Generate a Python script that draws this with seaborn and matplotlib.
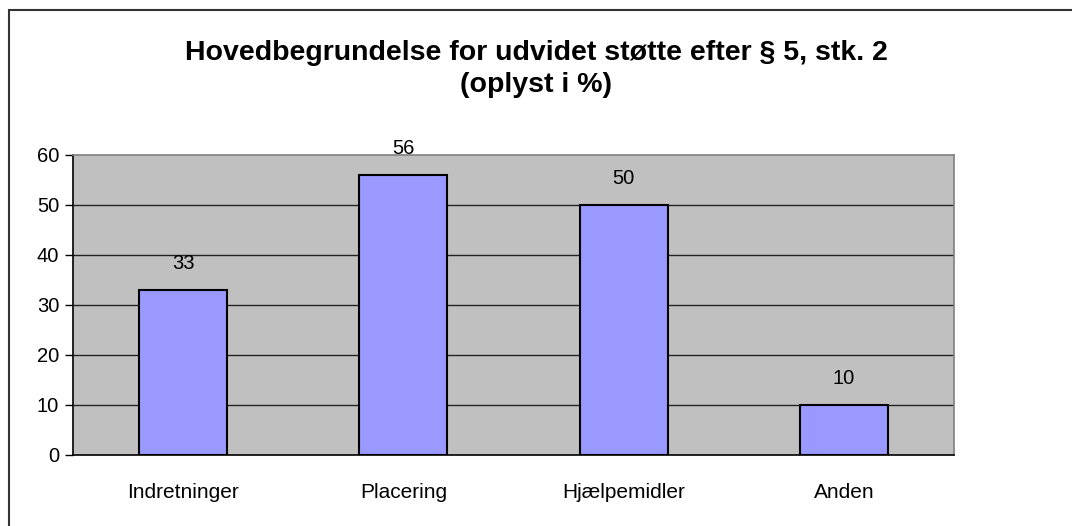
import matplotlib
matplotlib.use("Agg")
import matplotlib.pyplot as plt
import seaborn as sns
import pandas as pd
from matplotlib.patches import Rectangle

categories = ["Indretninger", "Placering", "Hjælpemidler", "Anden"]
values = [33, 56, 50, 10]
yticks = [0, 10, 20, 30, 40, 50, 60]
title_lines = ["Hovedbegrundelse for udvidet støtte efter § 5, stk. 2", "(oplyst i %)"]

sns.set_theme(style="white")
plt.rcParams['font.family'] = ['Liberation Sans', 'DejaVu Sans']
plt.rcParams['text.color'] = 'black'
plt.rcParams['xtick.color'] = 'black'
plt.rcParams['ytick.color'] = 'black'

df = pd.DataFrame({"cat": categories, "val": values})

fig = plt.figure(figsize=(10.72, 5.26), dpi=100)
ax = fig.add_axes([73/1072, 71/526, (954-73)/1072, (455-155)/526])
ax.set_facecolor("#C0C0C0")

sns.barplot(data=df, x="cat", y="val", color="#9999FF", width=0.4,
            edgecolor="black", linewidth=1.5, saturation=1, ax=ax, zorder=3)

ax.set_ylim(0, 60)
ax.set_xlim(-0.5, len(categories) - 0.5)
ax.set_yticks(yticks)
ax.set_yticklabels([str(t) for t in yticks], fontsize=14.5)
for t in yticks[1:-1]:
    ax.axhline(t, color="#222222", linewidth=1.0, zorder=1)

ax.set_xticks(range(len(categories)))
ax.set_xticklabels(categories, fontsize=15)
ax.tick_params(axis="x", which="major", length=0, pad=20)
ax.set_xticks([i - 0.5 for i in range(len(categories) + 1)], minor=True)
ax.tick_params(axis="x", which="minor", length=6, width=1, color="black", direction="out")
ax.tick_params(axis="y", length=6, width=1, color="black", direction="out", pad=4, left=True)
ax.set_xlabel("")
ax.set_ylabel("")

for side in ["left", "bottom"]:
    ax.spines[side].set_color("black")
    ax.spines[side].set_linewidth(1.2)
for side in ["top", "right"]:
    ax.spines[side].set_color("#808080")
    ax.spines[side].set_linewidth(1.2)

for c in ax.containers:
    ax.bar_label(c, labels=[str(v) for v in values], padding=12, fontsize=14.5, color="black")

fig.text(0.5, 1 - 53/526, title_lines[0], ha="center", va="center",
         fontsize=20.5, fontweight="bold", color="black")
fig.text(0.5, 1 - 85/526, title_lines[1], ha="center", va="center",
         fontsize=20.5, fontweight="bold", color="black")

border = Rectangle((9/1072, -0.1), 1.2, 1 - 10/526 + 0.1, transform=fig.transFigure,
                   fill=False, edgecolor="#333333", linewidth=1.5)
fig.patches.append(border)

fig.savefig("out.png", dpi=100)
